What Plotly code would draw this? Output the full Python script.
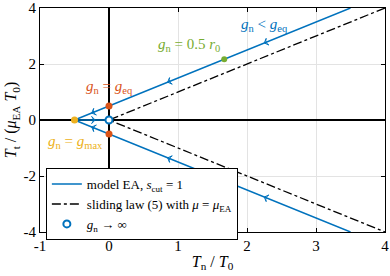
import numpy as np
import plotly.graph_objects as go

# model EA curve (upper branch, lower branch, horizontal branch)
model_tn = [3.5, -0.5, 3.5, None, -0.5, 0.0]
model_tt = [4.0, 0.0, -4.0, None, 0.0, 0.0]
# sliding law (5)
slide_tn = [4.0, 0.0, 4.0]
slide_tt = [4.0, 0.0, -4.0]
# arrow positions along model curve
arrow_tn = [-0.25, 0.85, 2.25, -0.25, 0.85, 2.25, -0.2]
arrow_tt = [0.25, 1.35, 2.75, -0.25, -1.35, -2.75, 0.0]
# special points
pt_gmax = (-0.5, 0.0)
pt_geq_tn = [0.0, 0.0]
pt_geq_tt = [0.5, -0.5]
pt_half = (1.67, 2.17)
pt_inf = (0.0, 0.0)
# ticks
x_ticks = [-1, 0, 1, 2, 3, 4]
x_ticklabels = ["-1", "0", "1", "2", "3", "4"]
y_ticks = [-4, -2, 0, 2, 4]
y_ticklabels = ["-4", "-2", "0", "2", "4"]

BLUE = "#0072BD"
ORANGE = "#D95319"
YELLOW = "#EDB120"
GREEN = "#77AC30"
FONT = "'Liberation Serif', serif"

W, H = 390, 276
ml, mr, mt, mb = 40, 5, 8, 44
xr, yr = [-1, 4], [-4, 4]
px_x = (W - ml - mr) / (xr[1] - xr[0])
px_y = (H - mt - mb) / (yr[1] - yr[0])
# angles of arrows (screen direction, clockwise from up)
dirs = [(-1, -1), (-1, -1), (-1, -1), (-1, 1), (-1, 1), (-1, 1), (1, 0)]
angles = [float(np.degrees(np.arctan2(dx * px_x, dy * px_y))) for dx, dy in dirs]

fig = go.Figure()
fig.add_trace(go.Scatter(x=model_tn, y=model_tt, mode="lines",
                         line=dict(color=BLUE, width=1.5),
                         name="model EA, <i>s</i><sub>cut</sub> = 1"))
fig.add_trace(go.Scatter(x=slide_tn, y=slide_tt, mode="lines",
                         line=dict(color="black", width=1.3, dash="dashdot"),
                         name="sliding law (5) with <i>μ</i> = <i>μ</i><sub>EA</sub>"))
fig.add_trace(go.Scatter(x=arrow_tn, y=arrow_tt, mode="markers", showlegend=False,
                         marker=dict(symbol="arrow-wide-open", size=5, angle=angles,
                                     color=BLUE, line=dict(color=BLUE, width=1))))
fig.add_trace(go.Scatter(x=[pt_gmax[0]], y=[pt_gmax[1]], mode="markers", showlegend=False,
                         marker=dict(size=7, color=YELLOW)))
fig.add_trace(go.Scatter(x=pt_geq_tn, y=pt_geq_tt, mode="markers", showlegend=False,
                         marker=dict(size=7, color=ORANGE)))
fig.add_trace(go.Scatter(x=[pt_half[0]], y=[pt_half[1]], mode="markers", showlegend=False,
                         marker=dict(size=6, color=GREEN)))
fig.add_trace(go.Scatter(x=[pt_inf[0]], y=[pt_inf[1]], mode="markers",
                         name="<i>g</i><sub>n</sub> → ∞",
                         marker=dict(size=7, color="white", line=dict(color=BLUE, width=2))))

annots = [
    (0.0, 1.18, "<i>g</i><sub>n</sub> = <i>g</i><sub>eq</sub>", ORANGE),
    (1.16, 2.68, "<i>g</i><sub>n</sub> = 0.5 <i>r</i><sub>0</sub>", GREEN),
    (2.25, 3.39, "<i>g</i><sub>n</sub> &lt; <i>g</i><sub>eq</sub>", BLUE),
    (-0.48, -0.77, "<i>g</i><sub>n</sub> = <i>g</i><sub>max</sub>", YELLOW),
]
for x, y, t, c in annots:
    fig.add_annotation(x=x, y=y, text=t, showarrow=False,
                       font=dict(family=FONT, size=15, color=c))

axis_common = dict(showgrid=True, gridcolor="#e3e3e3", gridwidth=1,
                   zeroline=True, zerolinecolor="black", zerolinewidth=1.5,
                   showline=True, linecolor="black", linewidth=1, mirror="ticks",
                   ticks="inside", ticklen=4, tickcolor="black", automargin=False,
                   tickfont=dict(family=FONT, size=15, color="black"))
fig.update_xaxes(range=xr, tickvals=x_ticks, ticktext=x_ticklabels, **axis_common,
                 title=dict(text="<i>T</i><sub>n</sub> / <i>T</i><sub>0</sub>",
                            font=dict(family=FONT, size=16, color="black"), standoff=2))
fig.update_yaxes(range=yr, tickvals=y_ticks, ticktext=y_ticklabels, **axis_common,
                 title=dict(text="<i>T</i><sub>t</sub> / (<i>μ</i><sub>EA</sub> <i>T</i><sub>0</sub>)",
                            font=dict(family=FONT, size=16, color="black"), standoff=2))

fig.update_layout(
    width=W, height=H, margin=dict(l=ml, r=mr, t=mt, b=mb),
    plot_bgcolor="white", paper_bgcolor="white",
    font=dict(family=FONT, color="black"),
    legend=dict(x=0.017, y=0.285, xanchor="left", yanchor="top",
                bgcolor="white", bordercolor="black", borderwidth=1,
                font=dict(family=FONT, size=13, color="black"),
                tracegroupgap=0, itemwidth=30),
)
fig.write_html("out.html", config={"displayModeBar": False},
               post_script="document.body.style.margin='0';")
